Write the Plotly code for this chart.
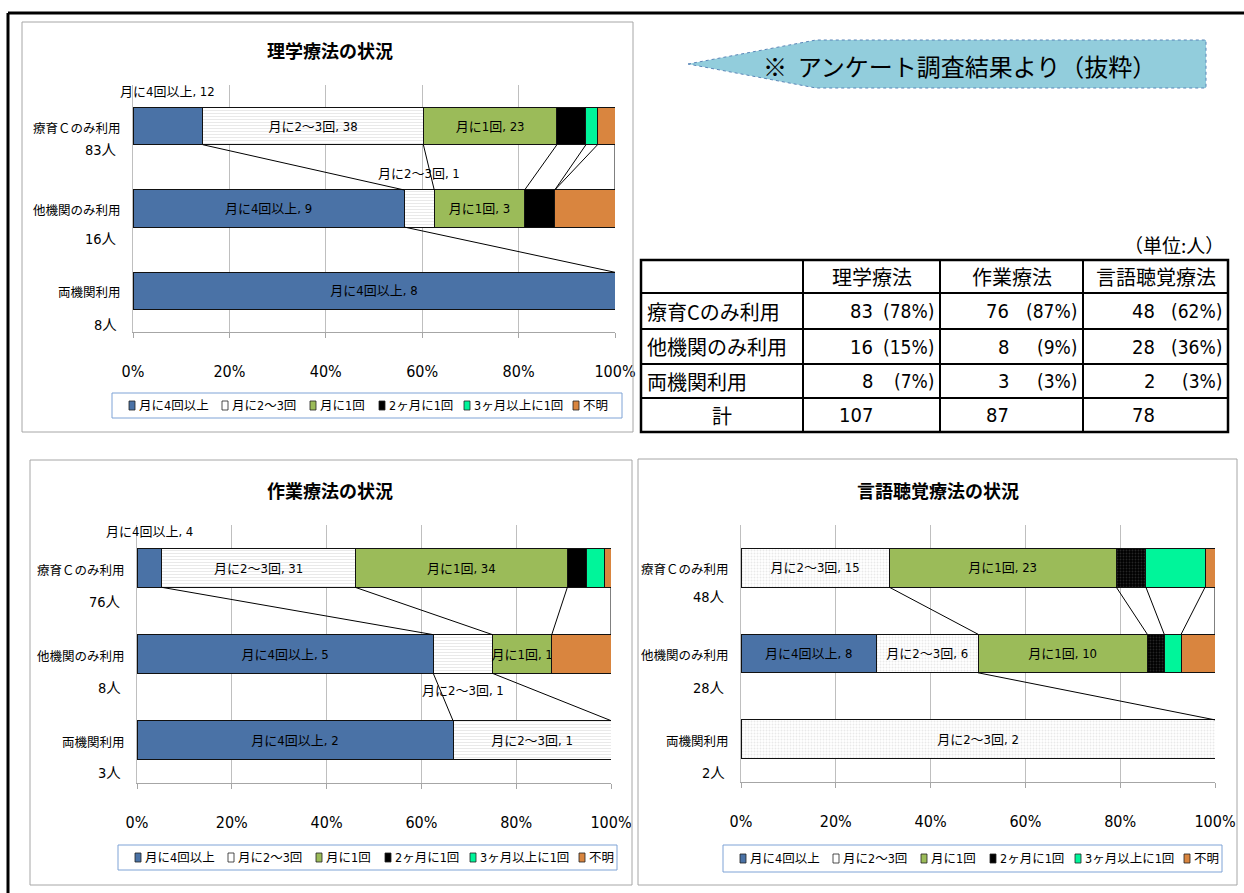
import plotly.graph_objects as go

# ---------------- data ----------------
series_names = ["月に4回以上", "月に2～3回", "月に1回", "2ヶ月に1回", "3ヶ月以上に1回", "不明"]
categories = ["療育Ｃのみ利用", "他機関のみ利用", "両機関利用"]
chart_titles = ["理学療法の状況", "作業療法の状況", "言語聴覚療法の状況"]

# 理学療法 (physical therapy): counts per series for each category
pt_center_only = [12, 38, 23, 5, 2, 3]
pt_other_only = [9, 1, 3, 1, 0, 2]
pt_both = [8, None, None, None, None, None]

# 作業療法 (occupational therapy)
ot_center_only = [4, 31, 34, 3, 3, 1]
ot_other_only = [5, 1, 1, None, None, 1]
ot_both = [2, 1, None, None, None, None]

# 言語聴覚療法 (speech therapy)
st_center_only = [None, 15, 23, 3, 6, 1]
st_other_only = [8, 6, 10, 1, 1, 2]
st_both = [None, 2, None, None, None, None]

table_headers = ["理学療法", "作業療法", "言語聴覚療法"]
table_row_labels = ["療育Cのみ利用", "他機関のみ利用", "両機関利用", "計"]
tick_values = [0, 20, 40, 60, 80, 100]
tick_labels = ["0%", "20%", "40%", "60%", "80%", "100%"]
unit_label = "（単位:人）"
banner_text = "※  アンケート調査結果より（抜粋）"

# ---------------- style ----------------
W, H = 1244, 893
CJK = "Noto Sans CJK JP"
NARROW = "Liberation Sans Narrow, DejaVu Sans Condensed, Noto Sans CJK JP"
colors = ["#4A72A6", "#FFFFFF", "#9BBB59", "#000000", "#00F59A", "#D9853F"]
BAR_W = 0.45


def px(x):
    return x / W


def py(y):
    return 1 - y / H


shapes, annotations = [], []


def rect(x0, y0, x1, y1, color, width=1, fill="rgba(0,0,0,0)", dash="solid"):
    shapes.append(dict(type="rect", xref="paper", yref="paper", x0=px(x0), x1=px(x1),
                       y0=py(y1), y1=py(y0), line=dict(color=color, width=width, dash=dash),
                       fillcolor=fill))


def pline(x0, y0, x1, y1, color="black", width=1):
    shapes.append(dict(type="line", xref="paper", yref="paper", x0=px(x0), x1=px(x1),
                       y0=py(y0), y1=py(y1), line=dict(color=color, width=width)))


def label(x, y, s, size, font=CJK, xanchor="center", color="black"):
    annotations.append(dict(xref="paper", yref="paper", x=px(x), y=py(y), text=s,
                            showarrow=False, xanchor=xanchor, yanchor="middle",
                            font=dict(family=font, size=size, color=color)))


charts = [
    dict(data=[pt_center_only, pt_other_only, pt_both], ax="", plot=(133, 615, 85, 332),
         box=(22, 22, 633, 432), title_pos=(330, 50), legend_box=(112, 393, 622, 418),
         white_shape="-", black_shape="", count_dy=[24, 31, 34]),
    dict(data=[ot_center_only, ot_other_only, ot_both], ax="2", plot=(137, 611, 525, 783),
         box=(30, 460, 632, 885), title_pos=(330, 490), legend_box=(118, 845, 617, 870),
         white_shape="-", black_shape="", count_dy=[34, 34, 33]),
    dict(data=[st_center_only, st_other_only, st_both], ax="3", plot=(741, 1215, 525, 782),
         box=(638, 459, 1237, 885), title_pos=(938, 490), legend_box=(723, 845, 1222, 872),
         white_shape=".", black_shape=".", count_dy=[29, 34, 34]),
]

# labels moved outside of narrow segments: (chart, category, series) -> direction
moved_labels = {(0, 0, 0): -1, (0, 1, 1): -1, (1, 0, 0): -1, (1, 1, 1): 1}
legend_offsets = [17, 110, 198, 267, 352, 461]

fig = go.Figure()
layout_axes = {}

for ci, ch in enumerate(charts):
    rows = ch["data"]
    xa, ya = "x" + ch["ax"], "y" + ch["ax"]
    totals = [sum(v for v in r if v is not None) for r in rows]
    shares = [[(v / t * 100 if v is not None else None) for v in r] for r, t in zip(rows, totals)]
    cums = []
    for r in shares:
        acc, c = 0, []
        for v in r:
            acc += v or 0
            c.append(acc)
        cums.append(c)

    for si, name in enumerate(series_names):
        xs = [shares[k][si] for k in range(3)]
        texts = []
        for k in range(3):
            v = rows[k][si]
            if v is None or si > 2 or (ci, k, si) in moved_labels:
                texts.append("")
            else:
                texts.append(f"{name}, {v}")
        pattern = dict(shape="")
        if si == 1 and ch["white_shape"]:
            pattern = dict(shape=ch["white_shape"], fgcolor="#D4D4D4", bgcolor="#FFFFFF",
                           size=3, solidity=0.35)
        if si == 3 and ch["black_shape"]:
            pattern = dict(shape=ch["black_shape"], fgcolor="#4A4A4A", bgcolor="#000000",
                           size=3, solidity=0.3)
        fig.add_trace(go.Bar(
            x=xs, y=[0, 1, 2], orientation="h", width=BAR_W, name=name,
            xaxis=xa, yaxis=ya,
            marker=dict(color=colors[si], line=dict(color="#111111", width=1), pattern=pattern),
            text=texts, textposition="inside", insidetextanchor="middle", textangle=0,
            insidetextfont=dict(family=NARROW, size=13, color="black"),
            showlegend=False, hoverinfo="skip"))

    # moved labels
    for (c2, k, si), d in moved_labels.items():
        if c2 != ci:
            continue
        v = rows[k][si]
        xc = cums[k][si] - shares[k][si] / 2
        annotations.append(dict(xref=xa, yref=ya, x=xc, y=k + d * (BAR_W / 2 + 0.2),
                                text=f"{series_names[si]}, {v}", showarrow=False,
                                font=dict(family=NARROW, size=13, color="black")))

    # series lines between neighbouring bars
    for k in range(2):
        for si in range(len(series_names)):
            if rows[k][si] is None or rows[k + 1][si] is None:
                continue
            shapes.append(dict(type="line", xref=xa, yref=ya, x0=cums[k][si], y0=k + BAR_W / 2,
                               x1=cums[k + 1][si], y1=k + 1 - BAR_W / 2,
                               line=dict(color="black", width=1)))

    x0p, x1p, y0p, y1p = ch["plot"]
    layout_axes["xaxis" + ch["ax"]] = dict(
        domain=[px(x0p), px(x1p)], range=[0, 100], anchor=ya, tickvals=tick_values,
        ticktext=tick_labels, showgrid=True, gridcolor="#BFBFBF", gridwidth=1, zeroline=False,
        showline=True, linecolor="#A6A6A6", linewidth=1, ticks="outside", ticklen=5,
        tickcolor="#A6A6A6", ticklabelstandoff=20, fixedrange=True, automargin=False,
        tickfont=dict(family=NARROW, size=16, color="black"))
    layout_axes["yaxis" + ch["ax"]] = dict(
        domain=[py(y1p), py(y0p)], range=[2.5, -0.5], anchor=xa, showticklabels=False,
        showgrid=False, zeroline=False, showline=True, linecolor="#BFBFBF", ticks="",
        fixedrange=True, automargin=False)

    # chart frame and title
    bx0, by0, bx1, by1 = ch["box"]
    rect(bx0, by0, bx1, by1, "#A6A6A6", 1)
    label(ch["title_pos"][0], ch["title_pos"][1], f"<b>{chart_titles[ci]}</b>", 18)

    # category labels + counts
    cat_px = (y1p - y0p) / 3
    for k, cat in enumerate(categories):
        yc = y0p + cat_px * (k + 0.5)
        label(x0p - 10, yc + 1, cat, 12.5, xanchor="right")
        label(x0p - 14, yc + ch["count_dy"][k], f"{totals[k]}人", 14.5, font=NARROW,
              xanchor="right")

    # legend
    lx0, ly0, lx1, ly1 = ch["legend_box"]
    rect(lx0, ly0, lx1, ly1, "#7EA3D6", 1, fill="#FFFFFF")
    lyc = (ly0 + ly1) / 2
    for si, name in enumerate(series_names):
        sx = lx0 + legend_offsets[si]
        rect(sx, lyc - 4.5, sx + 6, lyc + 4.5, "#222222", 0.8, fill=colors[si])
        label(sx + 8, lyc, name, 12.5, font=NARROW, xanchor="left")

fig.update_layout(**layout_axes)

# ---------------- table ----------------
all_rows = [[pt_center_only, pt_other_only, pt_both],
            [ot_center_only, ot_other_only, ot_both],
            [st_center_only, st_other_only, st_both]]
col_x = [641, 803, 940, 1083, 1228]
row_y = [260, 293, 329, 364, 398, 432]
for xx in col_x:
    pline(xx, row_y[0], xx, row_y[-1], width=2)
for yy in row_y:
    pline(col_x[0], yy, col_x[-1], yy, width=2)
rect(col_x[0], row_y[0], col_x[-1], row_y[-1], "black", 2.5)
label(1226, 244, unit_label, 19, xanchor="right")
for j, hdr in enumerate(table_headers):
    label((col_x[j + 1] + col_x[j + 2]) / 2, (row_y[0] + row_y[1]) / 2, hdr, 20)
num_right = [875, 1011, 1157]
for r, rl in enumerate(table_row_labels):
    yc = (row_y[r + 1] + row_y[r + 2]) / 2
    if r < 3:
        label(645, yc, rl, 20, xanchor="left")
    else:
        label((col_x[0] + col_x[1]) / 2, yc, rl, 20)
for j, therapy in enumerate(all_rows):
    counts = [sum(v for v in rr if v is not None) for rr in therapy]
    grand = sum(counts)
    for r in range(3):
        yc = (row_y[r + 1] + row_y[r + 2]) / 2
        label(num_right[j], yc, str(counts[r]), 20, font=NARROW, xanchor="right")
        label(col_x[j + 2] - 4, yc, f"({round(counts[r] / grand * 100)}%)", 19, font=NARROW,
              xanchor="right")
    label(num_right[j], (row_y[4] + row_y[5]) / 2, str(grand), 20, font=NARROW, xanchor="right")

# ---------------- banner arrow ----------------
path = (f"M {px(688)},{py(64)} L {px(816)},{py(40)} L {px(1206)},{py(40)} "
        f"L {px(1206)},{py(88)} L {px(816)},{py(88)} Z")
shapes.append(dict(type="path", xref="paper", yref="paper", path=path, fillcolor="#92CDDC",
                   line=dict(color="#5B86B8", width=1, dash="dot")))
label(960, 65, banner_text, 24)

# ---------------- outer frame ----------------
pline(8, 13, 1244, 13, width=3)
pline(8, 13, 8, 893, width=3)

fig.update_layout(
    width=W, height=H, margin=dict(l=0, r=0, t=0, b=0, autoexpand=False), autosize=False,
    paper_bgcolor="white", plot_bgcolor="rgba(0,0,0,0)", barmode="stack",
    showlegend=False, shapes=shapes, annotations=annotations,
    uniformtext=dict(mode="show", minsize=13),
    font=dict(family=CJK, color="black"))

fig.write_html("out.html", config={"displayModeBar": False},
               post_script="document.body.style.margin='0';document.body.style.overflow='hidden';")
